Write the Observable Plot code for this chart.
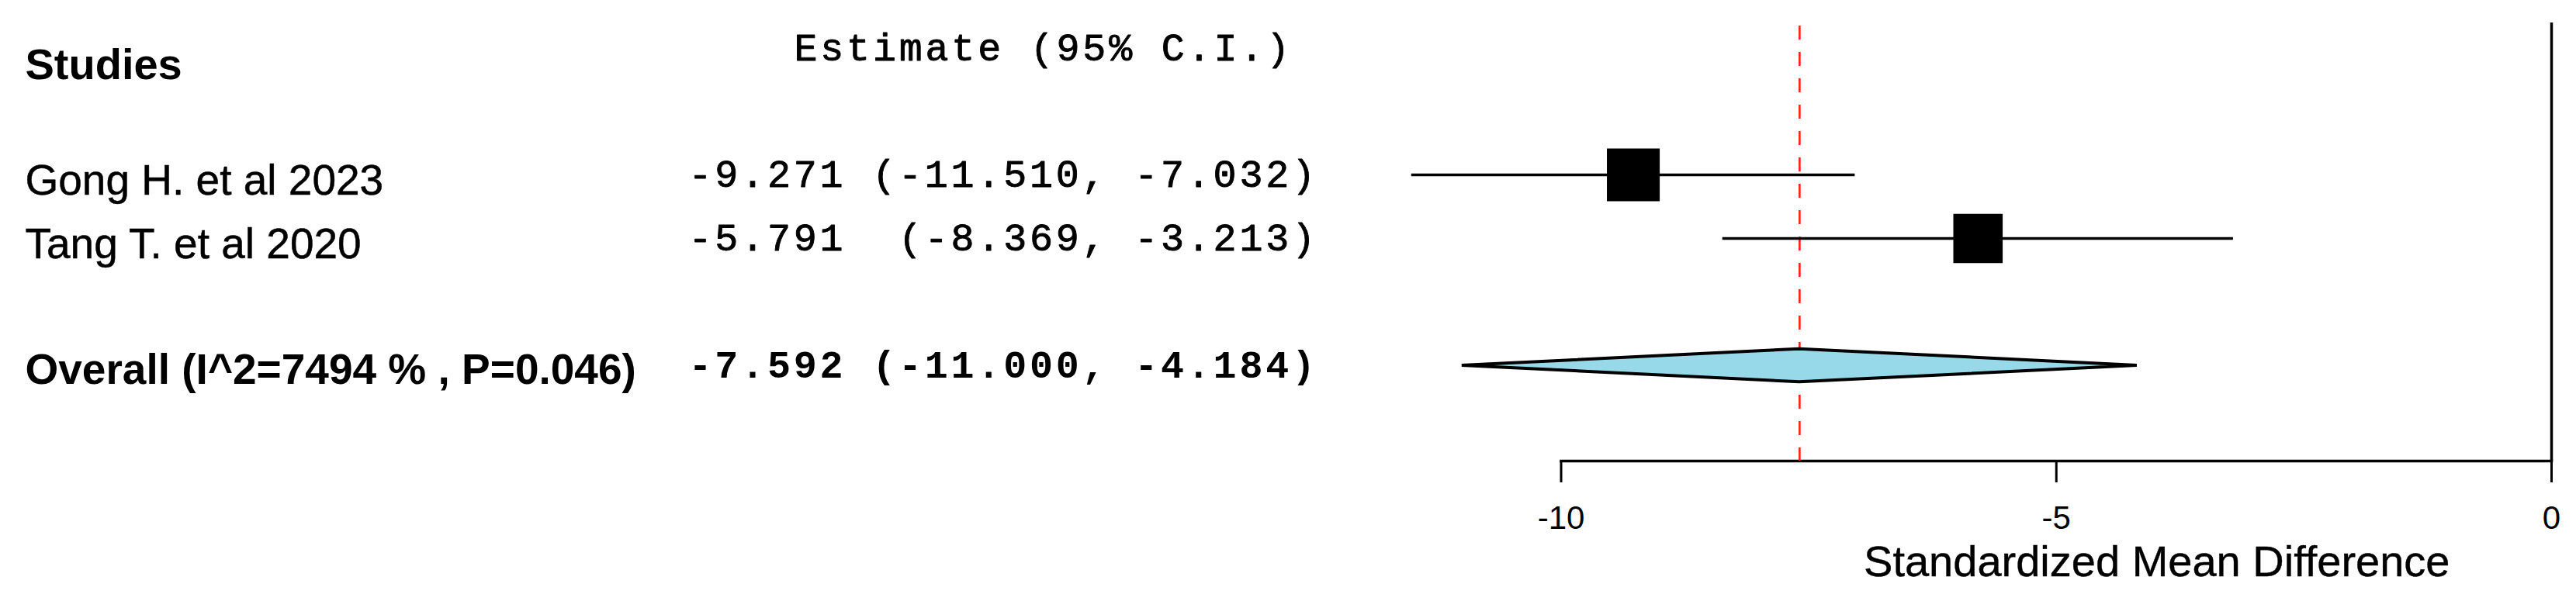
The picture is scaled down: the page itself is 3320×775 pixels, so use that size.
<!DOCTYPE html>
<html>
<head>
<meta charset="utf-8">
<script src="https://cdn.jsdelivr.net/npm/d3@7"></script>
<script src="https://cdn.jsdelivr.net/npm/@observablehq/plot@0.6"></script>
<style>
  body { margin: 0; background: #fff; }
</style>
</head>
<body>
<div id="chart"></div>
<script>
// ---- data ----
const studies   = ["Gong H. et al 2023", "Tang T. et al 2020"];
const estimates = [-9.271, -5.791];
const lowerCI   = [-11.510, -8.369];
const upperCI   = [-7.032, -3.213];
const weights   = [51.7, 48.3];

const overallLabel    = "Overall (I^2=7494 % , P=0.046)";
const overallEstimate = -7.592;
const overallLower    = -11.000;
const overallUpper    = -4.184;

const headerStudies  = "Studies";
const headerEstimate = "Estimate (95% C.I.)";
const xLabel = "Standardized Mean Difference";
const xTicks = [-10, -5, 0];

// ---- layout ----
const W = 3320, H = 775;
const ML = 2011.5, MR = 32, MT = 29, MB = 181;
const colLabel = 32, colCI = 887, colHeader = 1023;
const sans = "Liberation Sans, Arial, Helvetica, sans-serif";
const mono = "Liberation Mono";

const fmt = v => v.toFixed(3);
const ciText = (e, l, h) => `${fmt(e)} ${("(" + fmt(l) + ",").padStart(9)} ${fmt(h)})`;

const rows = studies.map((name, i) => ({
  name, est: estimates[i], lo: lowerCI[i], hi: upperCI[i], w: weights[i],
  row: i + 2, text: ciText(estimates[i], lowerCI[i], upperCI[i])
}));
const overallRow = rows.length + 3;
const halfH = 0.26;
const diamond = [
  {x: overallLower,    y1: overallRow,         y2: overallRow},
  {x: overallEstimate, y1: overallRow - halfH, y2: overallRow + halfH},
  {x: overallUpper,    y1: overallRow,         y2: overallRow}
];

const thick = {fill: "black", stroke: "black"};

const plot = Plot.plot({
  width: W, height: H,
  marginLeft: ML, marginRight: MR, marginTop: MT, marginBottom: MB,
  x: {domain: [-10, 0]},
  y: {domain: [0, overallRow], range: [61, 471], axis: null},
  r: {type: "linear", domain: [0, d3.max(weights)], range: [0, 38.4]},
  style: {background: "white", color: "black", fontFamily: sans},
  marks: [
    Plot.frame({anchor: "bottom", strokeWidth: 3.5}),
    Plot.axisX({ticks: xTicks, tickFormat: d => `${d}`, tickSize: 28, tickPadding: 30,
                fontSize: 42, strokeWidth: 3, label: null, fontFamily: sans}),
    Plot.ruleX([0], {strokeWidth: 3.5}),
    Plot.ruleX([overallEstimate], {stroke: "#ff1f1f", strokeWidth: 2.6, strokeDasharray: "18,16", insetTop: 4}),
    Plot.ruleY(rows, {y: "row", x1: "lo", x2: "hi", strokeWidth: 3.5}),
    Plot.dot(rows, {x: "est", y: "row", r: "w", symbol: "square", fill: "black", stroke: null}),
    Plot.areaY(diamond, {x: "x", y1: "y1", y2: "y2", fill: "#97d9e8", stroke: "black", strokeWidth: 4,
      strokeLinejoin: "miter"}),

    // header
    Plot.text([headerStudies], {text: d => d, y: () => 0, frameAnchor: "left", dx: colLabel - ML, dy: 23,
      textAnchor: "start", fontWeight: "bold", fontSize: 56, fontFamily: sans, fill: "black"}),
    Plot.text([headerEstimate], {text: d => d, y: () => 0, frameAnchor: "left", dx: colHeader - ML, dy: 0,
      textAnchor: "start", fontSize: 50, fontFamily: mono, ...thick, strokeWidth: 0.9}),

    // study rows
    Plot.text(rows, {text: "name", y: "row", frameAnchor: "left", dx: colLabel - ML, dy: 8,
      textAnchor: "start", fontSize: 55, fontFamily: sans, ...thick, strokeWidth: 0.5}),
    Plot.text(rows, {text: "text", y: "row", frameAnchor: "left", dx: colCI - ML, dy: -1,
      textAnchor: "start", fontSize: 50, fontFamily: mono, ...thick, strokeWidth: 0.9}),

    // overall row
    Plot.text([overallLabel], {text: d => d, y: () => overallRow, frameAnchor: "left", dx: colLabel - ML, dy: 6,
      textAnchor: "start", fontWeight: "bold", fontSize: 55, fontFamily: sans, fill: "black"}),
    Plot.text([ciText(overallEstimate, overallLower, overallUpper)], {text: d => d, y: () => overallRow,
      frameAnchor: "left", dx: colCI - ML, dy: -1, textAnchor: "start", fontWeight: "bold", fontSize: 50,
      fontFamily: mono, fill: "black"}),

    // x label
    Plot.text([xLabel], {text: d => d, frameAnchor: "bottom-right", dx: 3157 - (W - MR), dy: 148,
      lineAnchor: "bottom", textAnchor: "end", fontSize: 56, fontFamily: sans, ...thick, strokeWidth: 0.4})
  ]
});

plot.querySelectorAll(`g[font-family="${mono}"]`).forEach(g => { g.style.letterSpacing = "3.8px"; });
document.getElementById("chart").appendChild(plot);
</script>
</body>
</html>
